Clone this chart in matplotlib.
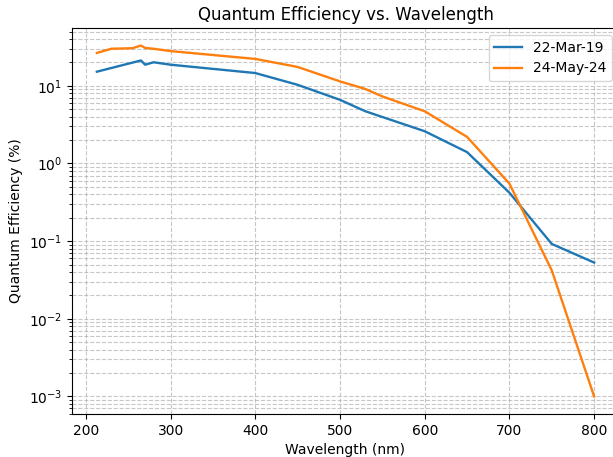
import matplotlib
matplotlib.use("Agg")
import matplotlib.pyplot as plt

# Data
wl_a = [213, 265, 270, 280, 300, 400, 450, 500, 530, 600, 650, 700, 750, 800]
qe_a = [15.2, 21.2, 18.7, 20.1, 18.7, 14.6, 10.3, 6.6, 4.7, 2.6, 1.4, 0.42, 0.092, 0.053]

wl_b = [213, 230, 255, 265, 270, 280, 300, 400, 450, 500, 530, 550, 600, 650, 700, 750, 800]
qe_b = [26.5, 30.0, 30.5, 33.0, 30.7, 30.0, 28.0, 22.2, 17.5, 11.4, 9.1, 7.3, 4.7, 2.2, 0.55, 0.042, 0.001]

label_a = "22-Mar-19"
label_b = "24-May-24"

fig = plt.figure(figsize=(6.13, 4.57), dpi=100)
ax = fig.add_axes([72 / 613, (457 - 414) / 457, (619 - 72) / 613, (414 - 28) / 457])

ax.plot(wl_a, qe_a, label=label_a, linewidth=1.7)
ax.plot(wl_b, qe_b, label=label_b, linewidth=1.7)
ax.set_yscale("log")
ax.set_xlabel("Wavelength (nm)")
ax.set_ylabel("Quantum Efficiency (%)")
ax.set_title("Quantum Efficiency vs. Wavelength")
ax.grid(True, which="both", linestyle="--", alpha=0.7)
ax.legend(loc="upper right")

fig.savefig("out.png", dpi=100)
